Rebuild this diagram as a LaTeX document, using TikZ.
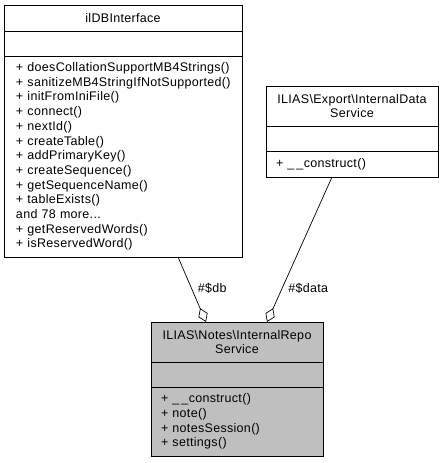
\documentclass[tikz,border=0pt]{standalone}
\usepackage{fontspec}
\setmainfont{Liberation Sans}[LetterSpace=2.5]
\usetikzlibrary{arrows.meta,calc,positioning}
\tikzstyle{classpart}=[draw=black,line width=0.8pt,inner ysep=0pt,outer sep=0pt,font=\fontsize{12.5}{14.7}\selectfont]
\tikzstyle{classtitle}=[classpart,align=center,inner xsep=2pt]
\tikzstyle{classops}=[classpart,align=left]
\tikzstyle{aggr}=[draw,line width=0.7pt,{Diamond[open,length=15pt,width=10pt,line width=0.7pt]}-]
\tikzstyle{role}=[font=\fontsize{12.5}{14.7}\selectfont,anchor=west,inner sep=0pt]

\begin{document}
\begin{tikzpicture}[x=1pt,y=-1pt]

    \useasboundingbox (0,0) rectangle (443,463);

    % ilDBInterface
    \node[classtitle, minimum width=238pt, minimum height=26pt, anchor=north west] (dbtitle) at (4,5) {ilDBInterface};
    \node[classpart, minimum width=238pt, minimum height=25pt, anchor=north] (dbattr) at (dbtitle.south) {};
    \node[classops, inner xsep=12pt, text width=214pt, minimum height=201pt, anchor=north] (dbops) at (dbattr.south)
        {+ doesCollationSupportMB4Strings()\\
         + sanitizeMB4StringIfNotSupported()\\
         + initFromIniFile()\\
         + connect()\\
         + nextId()\\
         + createTable()\\
         + addPrimaryKey()\\
         + createSequence()\\
         + getSequenceName()\\
         + tableExists()\\
         and 78 more...\\
         + getReservedWords()\\
         + isReservedWord()};

    % ILIAS\Export\InternalDataService
    \node[classtitle, minimum width=172pt, minimum height=40pt, anchor=north west] (datatitle) at (266,86)
        {ILIAS\textbackslash Export\textbackslash InternalData\\Service};
    \node[classpart, minimum width=172pt, minimum height=25pt, anchor=north] (dataattr) at (datatitle.south) {};
    \node[classops, inner xsep=10pt, text width=152pt, minimum height=26pt, anchor=north] (dataops) at (dataattr.south)
        {+ \_\,\_construct()};

    % ILIAS\Notes\InternalRepoService
    \node[classtitle, fill=black!25, minimum width=172pt, minimum height=40pt, anchor=north west] (repotitle) at (151,322)
        {ILIAS\textbackslash Notes\textbackslash InternalRepo\\Service};
    \node[classpart, fill=black!25, minimum width=172pt, minimum height=25pt, anchor=north] (repoattr) at (repotitle.south) {};
    \node[classops, fill=black!25, inner xsep=10pt, text width=152pt, minimum height=69pt, anchor=north] (repoops) at (repoattr.south)
        {+ \_\,\_construct()\\
         + note()\\
         + notesSession()\\
         + settings()};

    % aggregations
    \path[aggr] ($(repotitle.north west)+(55,0)$) -- node[role, pos=0.52, xshift=6pt] {\#\$db} ($(dbops.south west)+(174,0)$);
    \path[aggr] ($(repotitle.north west)+(116,0)$) -- node[role, pos=0.23, xshift=6pt] {\#\$data} ($(dataops.south west)+(66,0)$);

\end{tikzpicture}
\end{document}
